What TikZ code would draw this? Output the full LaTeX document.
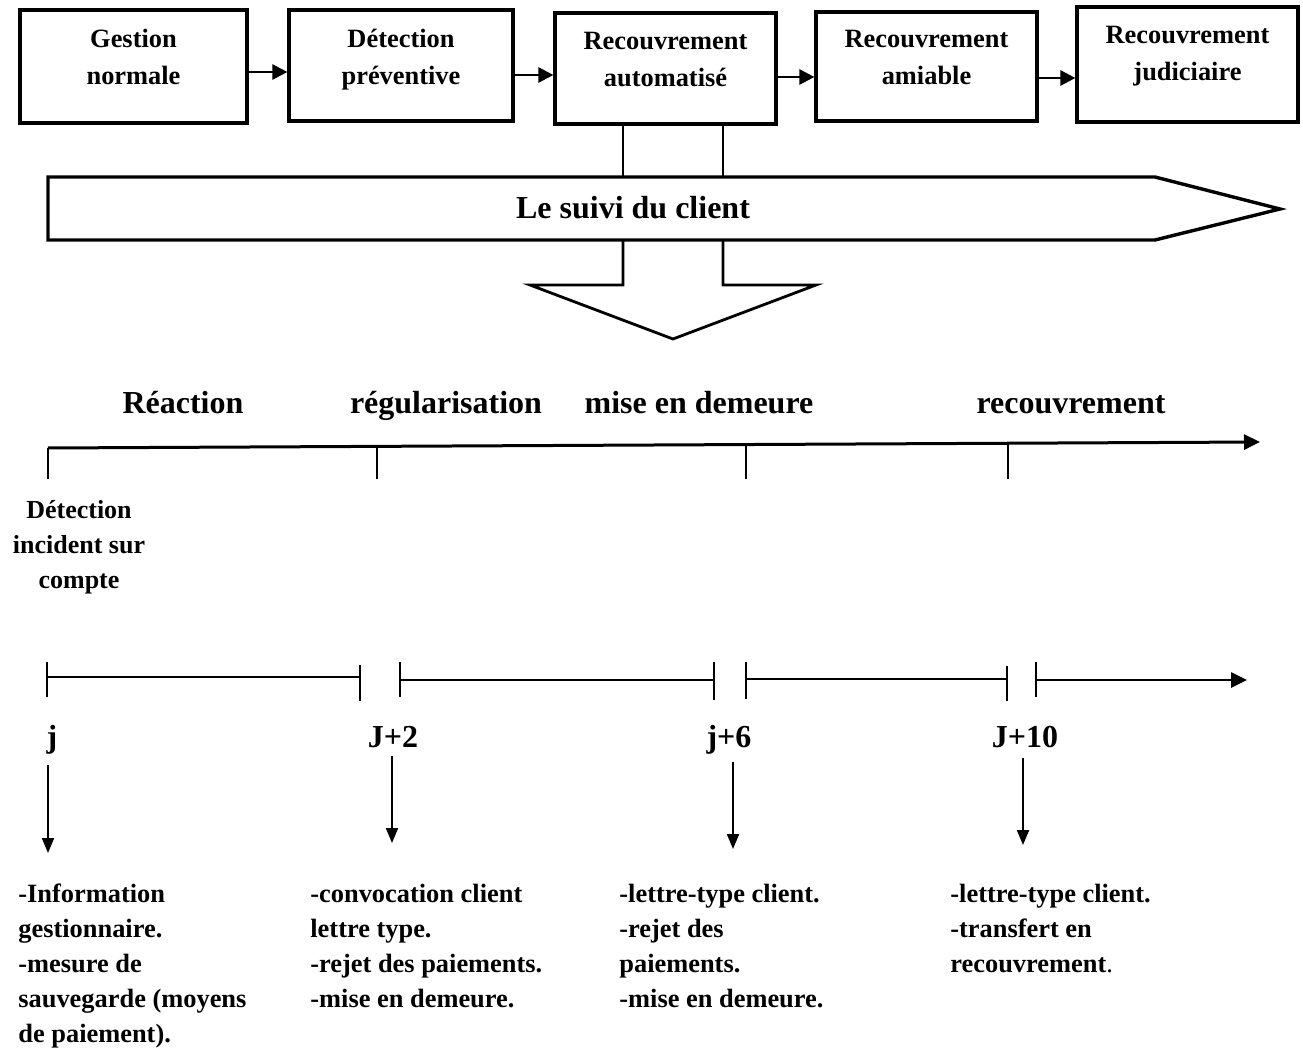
\documentclass[tikz,border=0pt]{standalone}
\usepackage{fontspec}
\setmainfont{Liberation Serif}
\usetikzlibrary{arrows.meta}

\tikzset{
  stage/.style={draw, line width=1.6pt, inner sep=0pt},
  stagetxt/.style={anchor=north, inner sep=0pt, align=center, font=\fontsize{13.2}{18.5}\selectfont\bfseries},
  flow/.style={line width=1.3pt, -{Triangle[length=7.5pt,width=7.5pt]}},
  link/.style={line width=1.4pt, line join=miter},
  phase/.style={anchor=base, inner sep=0pt, font=\fontsize{16}{19}\selectfont\bfseries},
  daylbl/.style={anchor=base, inner sep=0pt, font=\fontsize{16}{19}\selectfont\bfseries},
  tick/.style={line width=0.8pt},
  span/.style={line width=1pt},
  drop/.style={line width=1pt, -{Triangle[length=7.5pt,width=6pt]}},
  acts/.style={anchor=north west, inner sep=0pt, align=left, font=\fontsize{13.2}{17.5}\selectfont\bfseries}
}

\begin{document}
\begin{tikzpicture}[x=0.5pt,y=-0.5pt]
\useasboundingbox (0,0) rectangle (1303,1048);

% the five stages
\node[stage, minimum width=113.5pt, minimum height=56.5pt] (gest) at (133.5,66.5) {};
\node[stage, minimum width=112pt, minimum height=55.5pt] (prev) at (401,65.5) {};
\node[stage, minimum width=110.5pt, minimum height=55.5pt] (auto) at (665.5,68.5) {};
\node[stage, minimum width=110.5pt, minimum height=54.5pt] (amia) at (926.5,66.5) {};
\node[stage, minimum width=110.5pt, minimum height=57.5pt] (judi) at (1187.5,64.5) {};
\node[stagetxt] (tgest) at (133.5,29) {Gestion\\normale};
\node[stagetxt] (tprev) at (401,29) {Détection\\préventive};
\node[stagetxt] (tauto) at (665.5,32) {Recouvrement\\automatisé};
\node[stagetxt] (tamia) at (926.5,30) {Recouvrement\\amiable};
\node[stagetxt] (tjudi) at (1187.5,26) {Recouvrement\\judiciaire};
\draw[flow] ([yshift=-2.75pt]gest.east) -- ([yshift=-3.25pt]prev.west);
\draw[flow] ([yshift=-4.75pt]prev.east) -- ([yshift=-3.25pt]auto.west);
\draw[flow] ([yshift=-4.25pt]auto.east) -- ([yshift=-5.25pt]amia.west);
\draw[flow] ([yshift=-5.75pt]amia.east) -- ([yshift=-6.75pt]judi.west);

% big arrow
\draw[line width=1.7pt, line join=miter] (48,177) -- (1155,177) -- (1280,209) -- (1155,240) -- (48,240) -- cycle;
\node[phase] (suivi) at (633,219) {Le suivi du client};
\draw[link] (623,0 |- auto.south) -- (623,177);
\draw[link] (723,0 |- auto.south) -- (723,177);
\draw[link] (623,240) -- (623,285) -- (530,285) -- (673,339) -- (816,285) -- (723,285) -- (723,240);

% phases
\node[phase] (reac) at (183,414) {Réaction};
\node[phase] (regu) at (446,414) {régularisation};
\node[phase] (mise) at (699,414) {mise en demeure};
\node[phase] (reco) at (1071,414) {recouvrement};
\draw[line width=1.5pt, -{Triangle[length=8pt,width=7.5pt]}] (48,448) -- (1260,442);
\foreach \x/\y in {48/448, 377/446.4, 746/444.5, 1008/443.2}
  \draw[tick] (\x,\y) -- (\x,479);
\node[anchor=north, inner sep=0pt, align=center, font=\fontsize{13}{17.5}\selectfont\bfseries] (incid) at (79,500) {Détection\\incident sur\\compte};

% days
\foreach \a/\b/\y in {47/360/677, 400/714/680, 746/1007/679}
  \draw[span] (\a,\y) -- (\b,\y);
\foreach \x/\ya/\yb in {47/662/697, 360/665/701, 400/662/697, 714/662/700, 746/662/699, 1007/666/701, 1036/662/697}
  \draw[tick] (\x,\ya) -- (\x,\yb);
\draw[line width=1.3pt, -{Triangle[length=8pt,width=7.5pt]}] (1036,680) -- (1247,680);
\node[daylbl] (dj) at (52,747) {j};
\node[daylbl] (d2) at (393,747) {J+2};
\node[daylbl] (d6) at (729,747) {j+6};
\node[daylbl] (d10) at (1025,747) {J+10};
\draw[drop] ([xshift=-2pt,yshift=-9pt]dj.base) -- ++(0,88);
\draw[drop] ([xshift=-0.5pt,yshift=-4.5pt]d2.base) -- ++(0,87);
\draw[drop] ([xshift=2pt,yshift=-7.5pt]d6.base) -- ++(0,87);
\draw[drop] ([xshift=-1pt,yshift=-5.5pt]d10.base) -- ++(0,87);

% actions
\node[acts] (aj) at (18,884) {-Information\\gestionnaire.\\-mesure de\\sauvegarde (moyens\\de paiement).};
\node[acts] (a2) at (310,884) {-convocation client\\lettre type.\\-rejet des paiements.\\-mise en demeure.};
\node[acts] (a6) at (619,884) {-lettre-type client.\\-rejet des\\paiements.\\-mise en demeure.};
\node[acts] (a10) at (950,884) {-lettre-type client.\\-transfert en\\recouvrement{\mdseries.}};
\end{tikzpicture}
\end{document}
